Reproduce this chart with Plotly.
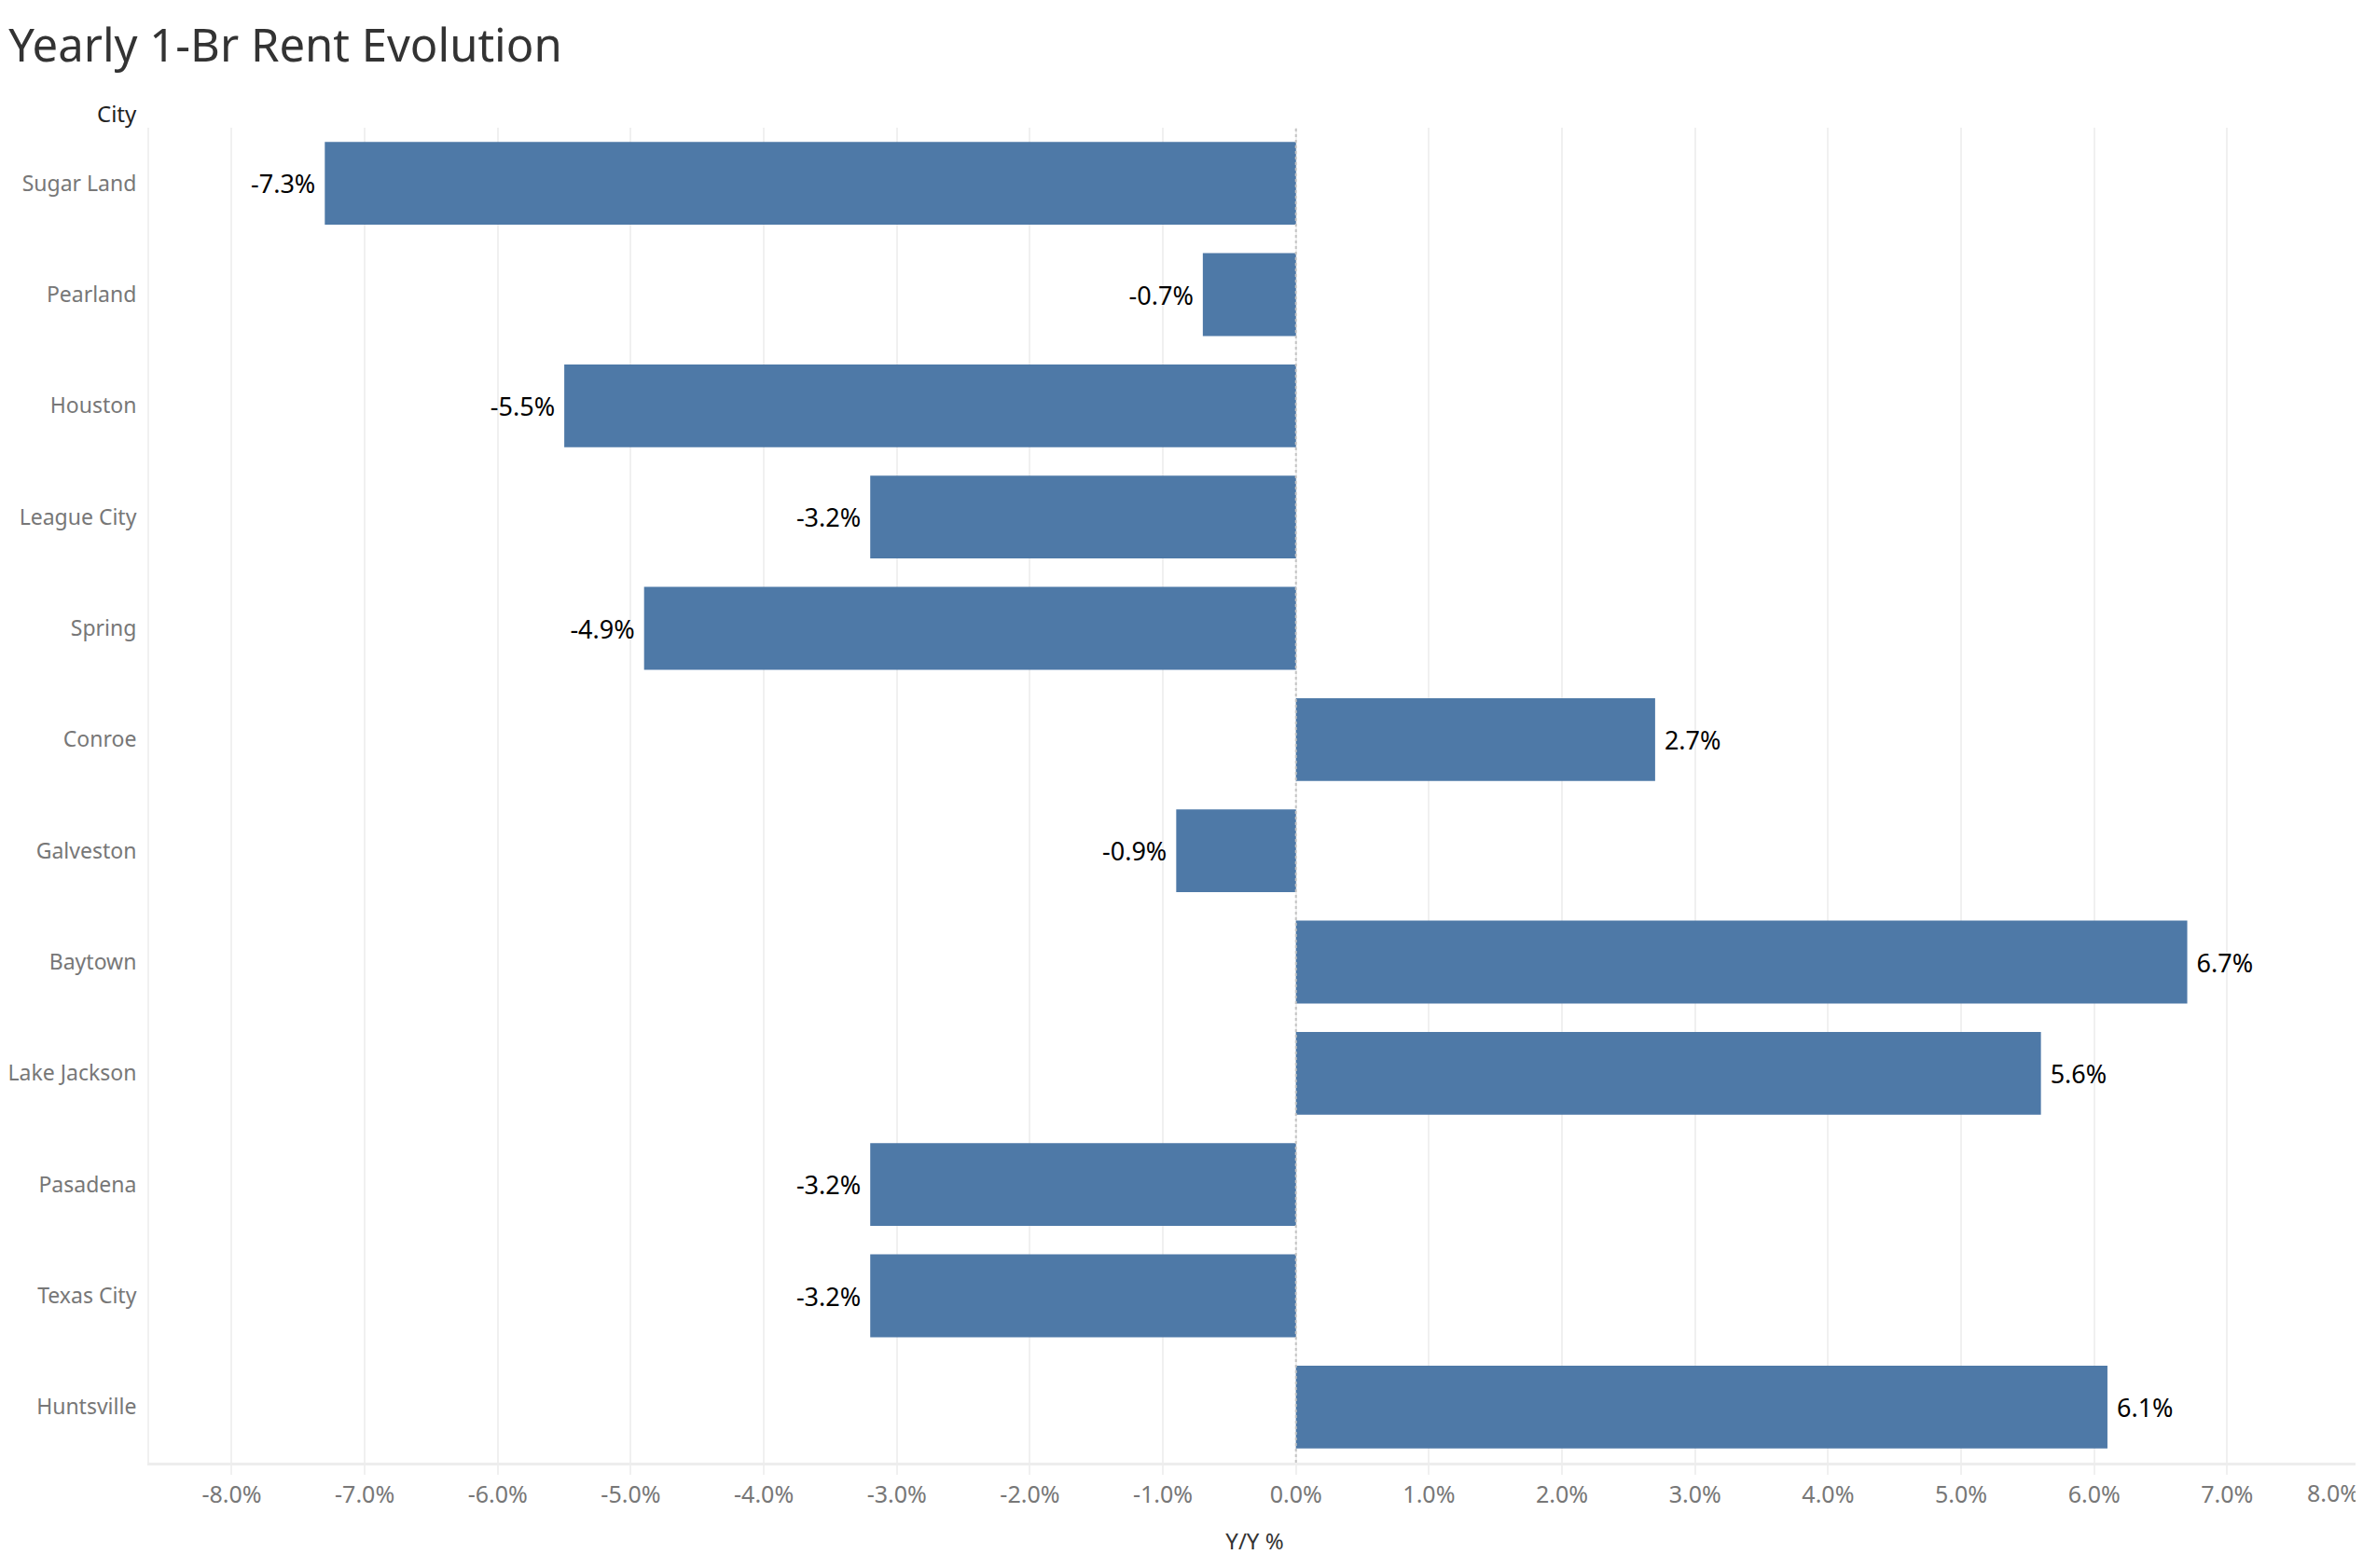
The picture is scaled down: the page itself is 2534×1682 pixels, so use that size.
import plotly.graph_objects as go

cities = ["Sugar Land", "Pearland", "Houston", "League City", "Spring", "Conroe",
          "Galveston", "Baytown", "Lake Jackson", "Pasadena", "Texas City", "Huntsville"]
yoy_pct = [-7.3, -0.7, -5.5, -3.2, -4.9, 2.7, -0.9, 6.7, 5.6, -3.2, -3.2, 6.1]
tick_values = [-8, -7, -6, -5, -4, -3, -2, -1, 0, 1, 2, 3, 4, 5, 6, 7, 8]
tick_labels = [f"{v:.1f}%" for v in tick_values]
bar_labels = [(f"{v:.1f}%\u00a0" if v < 0 else f"\u00a0{v:.1f}%") for v in yoy_pct]

FONT = "Noto Sans"
X_RANGE = [-8.62, 8.0]

# page body has an 8px default margin, so the figure is sized to fit the window
W, H = 2526, 1674

fig = go.Figure(go.Bar(
    x=yoy_pct, y=cities, orientation="h",
    marker=dict(color="#4E79A7", line=dict(width=0)),
    text=bar_labels, textposition="outside",
    textfont=dict(family=FONT, size=27, color="#000000"),
    cliponaxis=False,
))

# invisible helper trace so the overlay axis carrying the edge label is drawn
fig.add_trace(go.Scatter(
    x=tick_values[-1:], y=cities[:1], xaxis="x2", yaxis="y",
    mode="markers", marker=dict(opacity=0, size=1),
    hoverinfo="skip", showlegend=False,
))

fig.update_layout(
    width=W, height=H,
    margin=dict(l=152, r=3, t=129, b=113, autoexpand=False),
    paper_bgcolor="white", plot_bgcolor="white",
    bargap=0.255,
    showlegend=False,
    font=dict(family=FONT),
    title=dict(text="Yearly 1-Br Rent Evolution", x=0.0005, xanchor="left",
               y=1 - 41 / H, yanchor="middle",
               font=dict(family=FONT, size=49, color="#333333")),
)

tick_font = dict(family=FONT, size=25, color="#777777")

fig.update_layout(xaxis=dict(
    range=X_RANGE, automargin=False,
    tickmode="array", tickvals=tick_values,
    ticktext=tick_labels[:-1] + [""],
    tickfont=tick_font,
    showgrid=True, gridcolor="#f0f0f0", gridwidth=2,
    zeroline=False,
    showline=True, linecolor="#ededed", linewidth=3,
    ticks="outside", ticklen=10, tickcolor="#f0f0f0", tickwidth=2,
    title=dict(text="Y/Y %", font=dict(family=FONT, size=24, color="#333333"), standoff=28),
))

# the edge label (8.0%) sits left of its tick, inside the chart, as in the reference
fig.update_layout(xaxis2=dict(
    overlaying="x", anchor="y", side="bottom", range=X_RANGE, automargin=False,
    tickmode="array", tickvals=tick_values[-1:], ticktext=tick_labels[-1:],
    ticklabelposition="outside left", tickfont=tick_font,
    ticks="outside", ticklen=10, tickcolor="rgba(0,0,0,0)", tickwidth=2,
    ticklabelstandoff=11,
    showgrid=False, zeroline=False, showline=False,
))

fig.update_layout(yaxis=dict(
    categoryorder="array", categoryarray=cities,
    range=[len(cities) - 0.5, -0.5], automargin=False,
    tickfont=dict(family=FONT, size=23, color="#777777"),
    showgrid=False, zeroline=False,
    showline=True, linecolor="#f0f0f0", linewidth=2,
    ticks="", ticklabelstandoff=7,
))

fig.add_shape(type="line", xref="x", yref="paper", x0=0, x1=0, y0=0, y1=1,
              line=dict(color="#c4c4c4", width=2, dash="dot"), layer="above")

fig.add_annotation(text="City", xref="paper", yref="paper", x=-0.0045, y=1.0,
                   xanchor="right", yanchor="middle", yshift=16, showarrow=False,
                   font=dict(family=FONT, size=24, color="#222222"))

fig.write_html("out.html")
